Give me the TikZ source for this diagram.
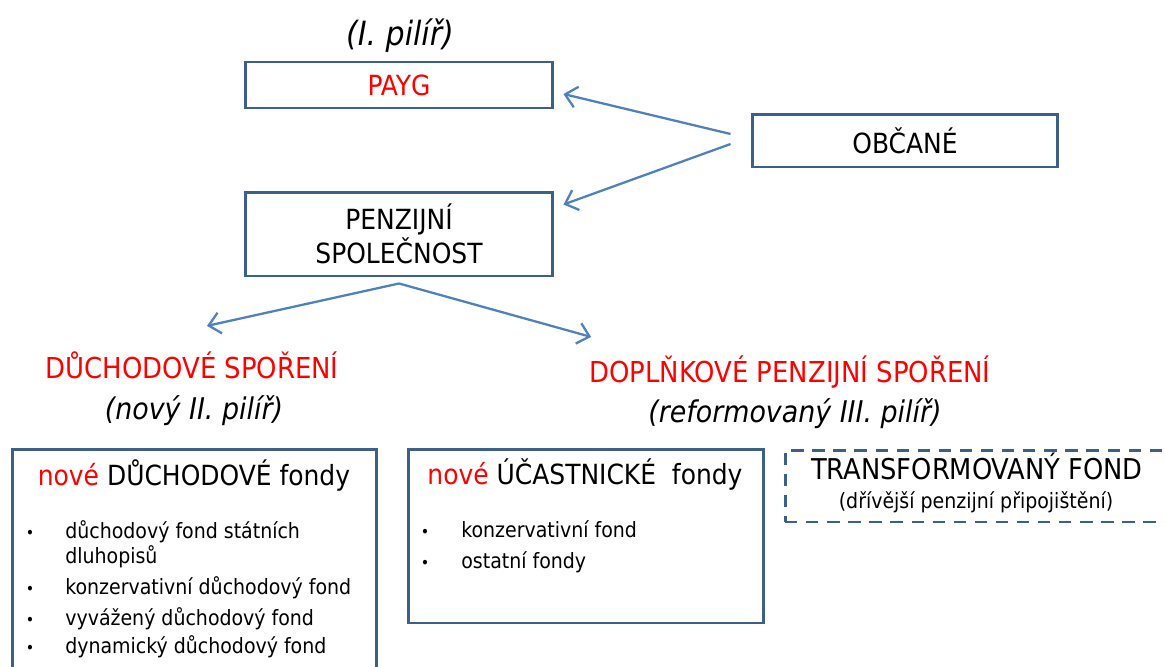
\documentclass[tikz,border=0pt]{standalone}
\usepackage{fontspec}
\setmainfont{DejaVu Sans Condensed}
\usetikzlibrary{arrows.meta, positioning}
\definecolor{boxblue}{RGB}{60,96,140}
\definecolor{arrowblue}{RGB}{79,129,189}

\begin{document}
\begin{tikzpicture}[x=0.02cm, y=-0.02cm,
		box/.style = {rectangle, draw=boxblue, line width=1.7pt, minimum width=6.16cm, align=center, font=\fontsize{15.8}{19}\selectfont},
		fundbox/.style = {rectangle, draw=boxblue, line width=1.7pt},
		fundtitle/.style = {anchor=base, inner sep=0pt, font=\fontsize{15.8}{19}\selectfont},
		redtitle/.style = {anchor=base, inner sep=0pt, text=red, font=\fontsize{16.4}{19}\selectfont},
		pillar/.style = {anchor=base, inner sep=0pt, font=\fontsize{17}{19}\selectfont\itshape},
		itemtext/.style = {anchor=base west, inner sep=0pt, font=\fontsize{12}{14}\selectfont},
		dot/.style = {anchor=base, inner sep=0pt, font=\fontsize{9}{10}\selectfont},
		arrow/.style = {draw=arrowblue, line width=1.3pt, -{Straight Barb[length=6.5pt, width=12pt]}}
		]
		\useasboundingbox (0,0) rectangle (1165,666);
		
		% Top boxes
		\node[box, minimum height=0.92cm, text=red] (Payg) at (399,85) {PAYG};
		\node[pillar, font=\fontsize{19}{21}\selectfont\itshape] (FirstPillar) at (400,45) {(I. pilíř)};
		\node[box, minimum height=1.68cm] (Spolecnost) at (399,234) {PENZIJNÍ\\SPOLEČNOST};
		\node[box, minimum width=6.12cm, minimum height=1.06cm] (Obcane) at (905,140.5) {OBČANÉ};
		
		% Savings
		\node[redtitle] (DuchSporeni) at (192,378) {DŮCHODOVÉ SPOŘENÍ};
		\node[pillar] (SecondPillar) at (194,419) {(nový II. pilíř)};
		\node[redtitle] (DoplSporeni) at (790,382) {DOPLŇKOVÉ PENZIJNÍ SPOŘENÍ};
		\node[pillar] (ThirdPillar) at (795,422) {(reformovaný III. pilíř)};
		
		% Funds
		\node[fundbox, minimum width=7.3cm, minimum height=4.84cm] (DuchFondy) at (194.5,570) {};
		\node[fundtitle] (DuchFondyTitle) at (194,485) {\textcolor{red}{nové} DŮCHODOVÉ fondy};
		\foreach \i/\y/\txt in {1/538/důchodový fond státních, 2/594/konzervativní důchodový fond, 3/625/vyvážený důchodový fond, 4/653/dynamický důchodový fond} {
			\node[dot] (DuchBullet\i) at (30,\y) {\textbullet};
			\node[itemtext] (DuchItem\i) at (65,\y) {\txt};
		}
		\node[itemtext] (DuchItemCont) at (65,563) {dluhopisů};
		
		\node[fundbox, minimum width=7.12cm, minimum height=3.48cm] (UcastFondy) at (586,536) {};
		\node[fundtitle] (UcastFondyTitle) at (585,484) {\textcolor{red}{nové} ÚČASTNICKÉ\ \ fondy};
		\foreach \i/\y/\txt in {1/537/konzervativní fond, 2/568/ostatní fondy} {
			\node[dot] (UcastBullet\i) at (425,\y) {\textbullet};
			\node[itemtext] (UcastItem\i) at (461,\y) {\txt};
		}
		
		\node[fundbox, dash pattern=on 7pt off 5pt, minimum width=7.9cm, minimum height=1.44cm] (TransFond) at (982.5,486) {};
		\node[fundtitle, font=\fontsize{16.3}{19}\selectfont] (TransFondTitle) at (977,479) {TRANSFORMOVANÝ FOND};
		\node[fundtitle, font=\fontsize{12}{14}\selectfont] (TransFondNote) at (976,508) {(dřívější penzijní připojištění)};
		
		% Arrows
		\draw[arrow] ([shift={(-20,-6.5)}]Obcane.west) -- ([shift={(9,9)}]Payg.east);
		\draw[arrow] ([shift={(-20,3.5)}]Obcane.west) -- ([shift={(9,14)}]Spolecnost.north east);
		\draw[arrow] ([shift={(0,6)}]Spolecnost.south) -- ([shift={(15,-25)}]DuchSporeni.north);
		\draw[arrow] ([shift={(0,6)}]Spolecnost.south) -- ([shift={(2,-18)}]DoplSporeni.north west);
		
	\end{tikzpicture}
\end{document}
